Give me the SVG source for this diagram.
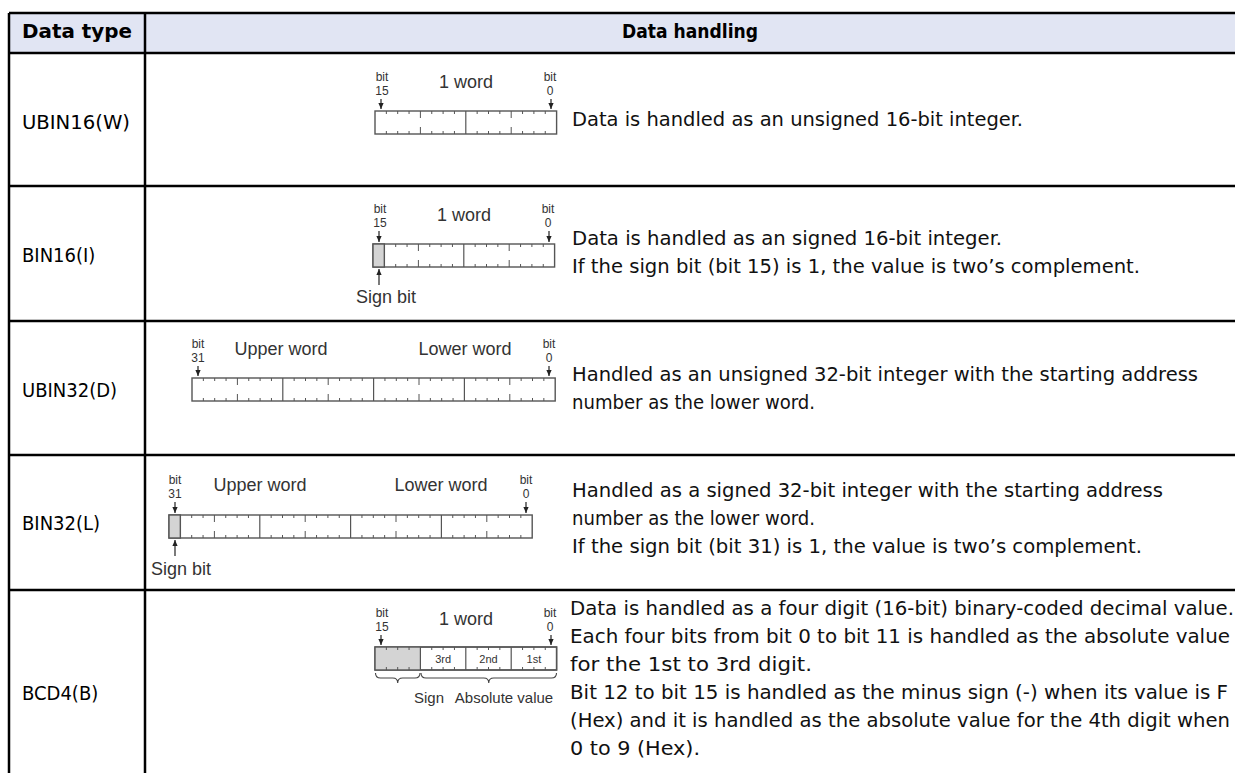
<svg xmlns="http://www.w3.org/2000/svg" xmlns:xlink="http://www.w3.org/1999/xlink" width="1235" height="773" viewBox="0 0 1235 773">
<style>
.hd{font-family:"DejaVu Sans",sans-serif;font-weight:bold;font-size:19px;fill:#000}
.lbl{font-family:"DejaVu Sans Condensed","DejaVu Sans",sans-serif;font-size:20px;fill:#000}
.desc{font-family:"DejaVu Sans Condensed","DejaVu Sans",sans-serif;font-size:19px;fill:#111}
.sm{font-family:"Liberation Sans",Arial,sans-serif;font-size:12px;fill:#333;text-anchor:middle}
.md{font-family:"Liberation Sans",Arial,sans-serif;font-size:18px;fill:#333;text-anchor:middle}
.xs{font-family:"Liberation Sans",Arial,sans-serif;font-size:11px;fill:#333;text-anchor:middle}
.br{font-family:"Liberation Sans",Arial,sans-serif;font-size:15px;fill:#333;text-anchor:middle}
.bar{fill:#fff;stroke:#555;stroke-width:1.4}
.tick{stroke:#555;stroke-width:1;fill:none}
.div{stroke:#555;stroke-width:1.2;fill:none}
.sign{fill:#d4d4d4;stroke:#555;stroke-width:1.4}
.grid{stroke:#000;stroke-width:2.5;fill:none}
.arr{stroke:#222;stroke-width:1.2;fill:none;marker-end:url(#ah)}
.brace{stroke:#444;stroke-width:1.1;fill:none}
</style>
<defs>
<marker id="ah" viewBox="0 0 6 6" refX="6" refY="3" markerWidth="6" markerHeight="6" markerUnits="userSpaceOnUse" orient="auto"><path d="M0,0.4 L6,3 L0,5.6z" fill="#222"/></marker>
<path id="t16" class="tick" d="M11.35 0v3M22.7 0v3M34.05 0v3M56.75 0v3M68.1 0v3M79.45 0v3M102.15 0v3M113.5 0v3M124.85 0v3M147.55 0v3M158.9 0v3M170.25 0v3M11.35 23v-3M22.7 23v-3M34.05 23v-3M56.75 23v-3M68.1 23v-3M79.45 23v-3M102.15 23v-3M113.5 23v-3M124.85 23v-3M147.55 23v-3M158.9 23v-3M170.25 23v-3M45.4 0v7M45.4 23v-7M136.2 0v7M136.2 23v-7"/>
<g id="b16"><rect class="bar" width="181.6" height="23"/><use xlink:href="#t16"/><path class="div" d="M90.8 0v23"/></g>
<g id="b32"><rect class="bar" width="363.2" height="23"/><use xlink:href="#t16"/><use xlink:href="#t16" x="181.6"/><path class="div" d="M90.8 0v23M181.6 0v23M272.4 0v23"/></g>
</defs>

<g id="table">
<rect x="9" y="13" width="1226" height="40" fill="#e1e5f3"/>
<path class="grid" d="M9 13H1235M9 53H1235M9 186H1235M9 321H1235M9 455H1235M9 590H1235M9 13V773M145 13V773"/>
</g>

<g id="header">
<text class="hd" x="22" y="38" textLength="110" lengthAdjust="spacingAndGlyphs">Data type</text>
<text class="hd" x="690" y="38" text-anchor="middle" textLength="136" lengthAdjust="spacingAndGlyphs">Data handling</text>
</g>

<g id="row-ubin16">
<text class="lbl" x="22" y="129" textLength="108" lengthAdjust="spacingAndGlyphs">UBIN16(W)</text>
<use xlink:href="#b16" x="375" y="111"/>
<text class="sm" x="382" y="81">bit</text><text class="sm" x="382" y="95">15</text>
<text class="sm" x="550" y="81">bit</text><text class="sm" x="550" y="95">0</text>
<text class="md" x="466" y="88">1 word</text>
<text class="desc" x="572" y="126" textLength="451" lengthAdjust="spacingAndGlyphs">Data is handled as an unsigned 16-bit integer.</text>
</g>

<g id="row-bin16">
<text class="lbl" x="22" y="262">BIN16(I)</text>
<use xlink:href="#b16" x="373" y="244"/>
<rect class="sign" x="373" y="244" width="11.35" height="23"/>
<text class="sm" x="380" y="213">bit</text><text class="sm" x="380" y="227">15</text>
<text class="sm" x="548" y="213">bit</text><text class="sm" x="548" y="227">0</text>
<text class="md" x="464" y="221">1 word</text>
<text class="md" x="386" y="303">Sign bit</text>
<text class="desc" x="572" y="245" textLength="430" lengthAdjust="spacingAndGlyphs">Data is handled as an signed 16-bit integer.</text>
<text class="desc" x="572" y="273" textLength="568" lengthAdjust="spacingAndGlyphs">If the sign bit (bit 15) is 1, the value is two’s complement.</text>
</g>

<g id="row-ubin32">
<text class="lbl" x="22" y="397">UBIN32(D)</text>
<use xlink:href="#b32" x="192" y="378"/>
<text class="sm" x="198" y="348">bit</text><text class="sm" x="198" y="362">31</text>
<text class="sm" x="549" y="348">bit</text><text class="sm" x="549" y="362">0</text>
<text class="md" x="281" y="355">Upper word</text>
<text class="md" x="465" y="355">Lower word</text>
<text class="desc" x="572" y="381" textLength="626" lengthAdjust="spacingAndGlyphs">Handled as an unsigned 32-bit integer with the starting address</text>
<text class="desc" x="572" y="409" textLength="243" lengthAdjust="spacingAndGlyphs">number as the lower word.</text>
</g>

<g id="row-bin32">
<text class="lbl" x="22" y="530">BIN32(L)</text>
<use xlink:href="#b32" x="169" y="515"/>
<rect class="sign" x="169" y="515" width="11.35" height="23"/>
<text class="sm" x="175" y="484">bit</text><text class="sm" x="175" y="498">31</text>
<text class="sm" x="526" y="484">bit</text><text class="sm" x="526" y="498">0</text>
<text class="md" x="260" y="491">Upper word</text>
<text class="md" x="441" y="491">Lower word</text>
<text class="md" x="181" y="575">Sign bit</text>
<text class="desc" x="572" y="497" textLength="591" lengthAdjust="spacingAndGlyphs">Handled as a signed 32-bit integer with the starting address</text>
<text class="desc" x="572" y="525" textLength="243" lengthAdjust="spacingAndGlyphs">number as the lower word.</text>
<text class="desc" x="572" y="553" textLength="570" lengthAdjust="spacingAndGlyphs">If the sign bit (bit 31) is 1, the value is two’s complement.</text>
</g>

<g id="row-bcd4">
<text class="lbl" x="22" y="700">BCD4(B)</text>
<rect class="bar" x="375" y="647" width="181.6" height="23"/>
<rect x="375" y="647" width="45.4" height="23" fill="#d4d4d4"/>
<path class="tick" d="M386.35 647v3M397.7 647v3M409.05 647v3M431.75 647v3M443.1 647v3M454.45 647v3M477.15 647v3M488.5 647v3M499.85 647v3M522.55 647v3M533.9 647v3M545.25 647v3M386.35 670v-3M397.7 670v-3M409.05 670v-3M431.75 670v-3M443.1 670v-3M454.45 670v-3M477.15 670v-3M488.5 670v-3M499.85 670v-3M522.55 670v-3M533.9 670v-3M545.25 670v-3"/>
<rect x="375" y="647" width="181.6" height="23" fill="none" stroke="#555" stroke-width="1.4"/>
<path class="div" d="M420.4 647v23M465.8 647v23M511.2 647v23"/>
<text class="xs" x="443.1" y="663">3rd</text>
<text class="xs" x="488.5" y="663">2nd</text>
<text class="xs" x="533.9" y="663">1st</text>
<text class="sm" x="382" y="617">bit</text><text class="sm" x="382" y="631">15</text>
<text class="sm" x="550" y="617">bit</text><text class="sm" x="550" y="631">0</text>
<text class="md" x="466" y="625">1 word</text>
<path class="brace" d="M375.5 673q0 5 5 5H392.7q5 0 5 5q0 -5 5 -5H415q5 0 5 -5"/>
<path class="brace" d="M421 673q0 5 5 5H483.75q5 0 5 5q0 -5 5 -5H551.5q5 0 5 -5"/>
<text class="br" x="429" y="703">Sign</text>
<text class="br" x="504" y="703">Absolute value</text>
<text class="desc" x="570" y="615" textLength="664" lengthAdjust="spacingAndGlyphs">Data is handled as a four digit (16-bit) binary-coded decimal value.</text>
<text class="desc" x="570" y="643" textLength="660" lengthAdjust="spacingAndGlyphs">Each four bits from bit 0 to bit 11 is handled as the absolute value</text>
<text class="desc" x="570" y="671" textLength="242" lengthAdjust="spacingAndGlyphs">for the 1st to 3rd digit.</text>
<text class="desc" x="570" y="699" textLength="658" lengthAdjust="spacingAndGlyphs">Bit 12 to bit 15 is handled as the minus sign (-) when its value is F</text>
<text class="desc" x="570" y="727" textLength="660" lengthAdjust="spacingAndGlyphs">(Hex) and it is handled as the absolute value for the 4th digit when</text>
<text class="desc" x="570" y="755" textLength="130" lengthAdjust="spacingAndGlyphs">0 to 9 (Hex).</text>
</g>

<g id="connectors">
<line class="arr" x1="381" y1="99" x2="381" y2="109"/>
<line class="arr" x1="551" y1="99" x2="551" y2="109"/>
<line class="arr" x1="379" y1="231" x2="379" y2="242"/>
<line class="arr" x1="549" y1="231" x2="549" y2="242"/>
<line class="arr" x1="379" y1="285" x2="379" y2="269"/>
<line class="arr" x1="198" y1="366" x2="198" y2="376"/>
<line class="arr" x1="549" y1="366" x2="549" y2="376"/>
<line class="arr" x1="175" y1="502" x2="175" y2="513"/>
<line class="arr" x1="526" y1="502" x2="526" y2="513"/>
<line class="arr" x1="175" y1="556" x2="175" y2="540"/>
<line class="arr" x1="381" y1="635" x2="381" y2="645"/>
<line class="arr" x1="551" y1="635" x2="551" y2="645"/>
</g>
</svg>
